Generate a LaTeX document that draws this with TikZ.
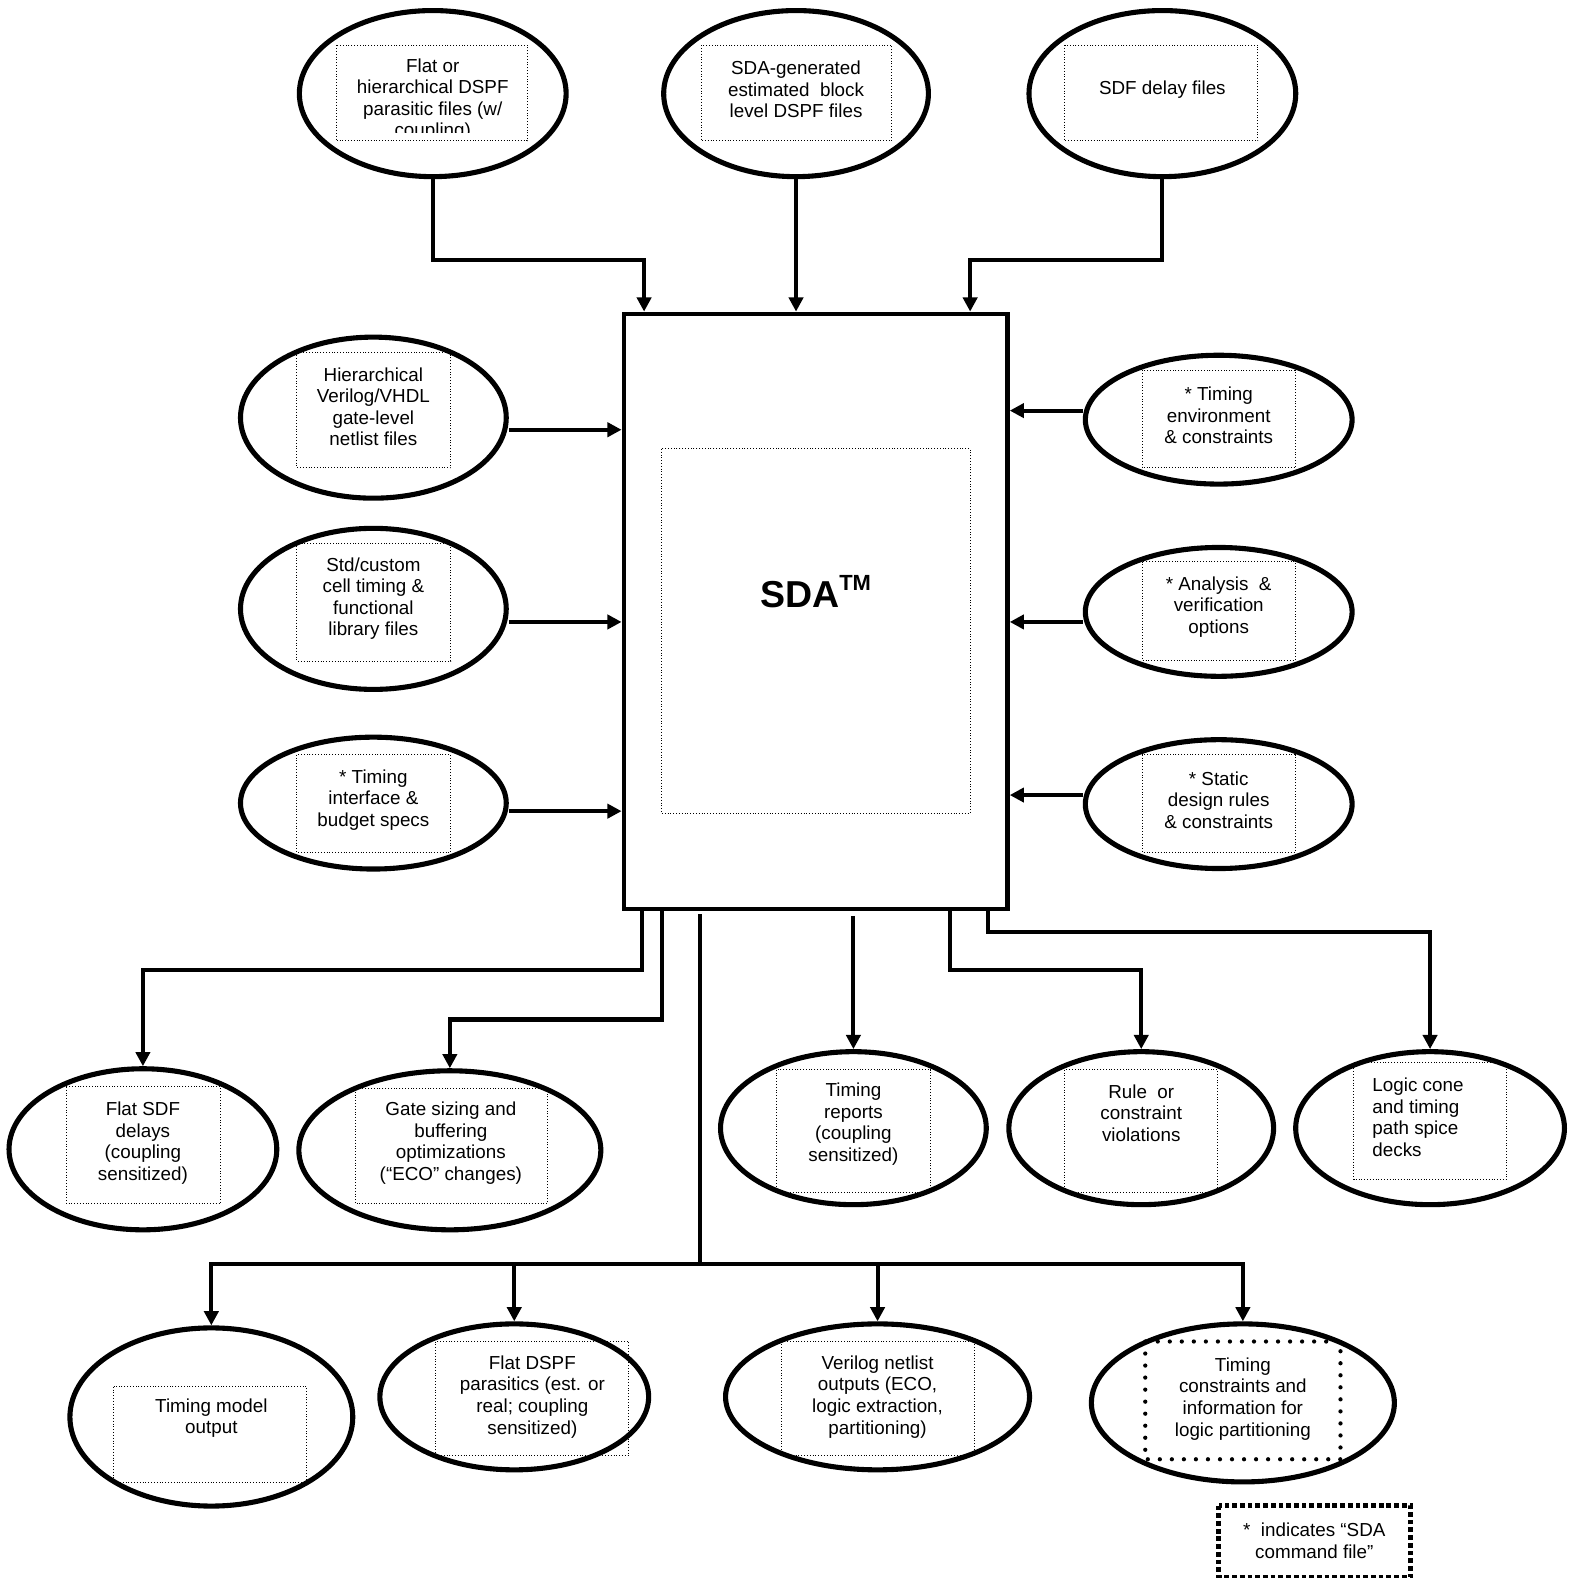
\documentclass[tikz,border=0pt]{standalone}
\usepackage{fontspec}
\setmainfont{Liberation Sans}
\usetikzlibrary{shapes.geometric, arrows.meta}

\newcommand\boxfont{\fontsize{13.3}{15.2}\selectfont}

\tikzset{
  file/.style={ellipse, draw, line width=3.6pt, inner sep=0pt},
  frame/.style={draw, line width=0.7pt, dash pattern=on 0.7pt off 1.3pt},
  txt/.style={align=center, font=\boxfont, inner sep=0pt},
  link/.style={line width=2.9pt, -{Triangle[length=10pt, width=10pt]}},
  wire/.style={line width=2.9pt, line cap=rect},
}

\begin{document}
\begin{tikzpicture}[x=0.025cm, y=-0.025cm]
  \useasboundingbox (0,0) rectangle (1563,1568);

  % main block
  \node (sda) [draw, line width=3.3pt, minimum width=9.525cm, minimum height=14.775cm, inner sep=0pt] at (810.5,607.5) {};
  \draw [frame] (657,446) rectangle (964,808);
  \node (sda-t) [anchor=base west, inner sep=0pt] at (755,604)
    {\fontsize{26.5}{30}\selectfont\bfseries SDA\raisebox{12pt}{\fontsize{15.5}{18}\selectfont TM}};

  % inputs, top
  \node (dspfin) [file, minimum width=6.625cm, minimum height=4.125cm] at (430,93) {};
  \draw [frame] (334,45) rectangle (524,140);
  \begin{scope}
    \clip (334,45) rectangle (524,132);
    \node (dspfin-t) [txt] at (430,99) {Flat or\\hierarchical DSPF\\parasitic files (w/\\coupling)};
  \end{scope}

  \node (dspfest) [file, minimum width=6.575cm, minimum height=4.125cm] at (791,93) {};
  \draw [frame] (697,45) rectangle (886,140);
  \node (dspfest-t) [txt] at (791,89) {SDA-generated\\estimated\ \ block\\level DSPF files};

  \node (sdfin) [file, minimum width=6.625cm, minimum height=4.125cm] at (1155,93) {};
  \draw [frame] (1058,45) rectangle (1250,140);
  \node (sdfin-t) [txt] at (1155,89) {SDF delay files};

  % inputs, left
  \node (netlist) [file, minimum width=6.6cm, minimum height=4cm] at (371,415) {};
  \draw [frame] (295,350) rectangle (448,465);
  \node (netlist-t) [txt] at (371,404) {Hierarchical\\Verilog/VHDL\\gate-level\\netlist files};

  \node (celllib) [file, minimum width=6.6cm, minimum height=4cm] at (371,605) {};
  \draw [frame] (295,540) rectangle (448,657);
  \node (celllib-t) [txt] at (371,595) {Std/custom\\cell timing \&\\functional\\library files};

  \node (budget) [file, minimum width=6.6cm, minimum height=3.275cm] at (371,798) {};
  \draw [frame] (295,750) rectangle (448,847);
  \node (budget-t) [txt] at (371,795) {* Timing\\interface \&\\budget specs};

  % inputs, right
  \node (tenv) [file, minimum width=6.625cm, minimum height=3.2cm] at (1211,417) {};
  \draw [frame] (1135,368) rectangle (1287,465);
  \node (tenv-t) [txt] at (1211,413) {* Timing\\environment\\\& constraints};

  \node (options) [file, minimum width=6.625cm, minimum height=3.2cm] at (1211,608) {};
  \draw [frame] (1135,558) rectangle (1287,656);
  \node (options-t) [txt] at (1211,603) {* Analysis\ \ \&\\verification\\options};

  \node (rules) [file, minimum width=6.625cm, minimum height=3.2cm] at (1211,799) {};
  \draw [frame] (1135,750) rectangle (1287,847);
  \node (rules-t) [txt] at (1211,795) {* Static\\design rules\\\& constraints};

  % outputs, first row
  \node (sdfout) [file, minimum width=6.65cm, minimum height=4cm] at (142,1142) {};
  \draw [frame] (66,1080) rectangle (219,1196);
  \node (sdfout-t) [txt] at (142,1136) {Flat SDF\\delays\\(coupling\\sensitized)};

  \node (eco) [file, minimum width=7.5cm, minimum height=3.95cm] at (447,1143) {};
  \draw [frame] (353,1082) rectangle (544,1196);
  \node (eco-t) [txt] at (448,1136) {Gate sizing and\\buffering\\optimizations\\(“ECO” changes)};

  \node (reports) [file, minimum width=6.6cm, minimum height=3.8cm] at (848,1121) {};
  \draw [frame] (772,1063) rectangle (925,1185);
  \node (reports-t) [txt] at (848,1117) {Timing\\reports\\(coupling\\sensitized)};

  \node (violations) [file, minimum width=6.575cm, minimum height=3.8cm] at (1134,1121) {};
  \draw [frame] (1058,1063) rectangle (1210,1185);
  \node (violations-t) [txt] at (1134,1106) {Rule\ \ or\\constraint\\violations};

  \node (spice) [file, minimum width=6.675cm, minimum height=3.8cm] at (1421,1121) {};
  \draw [frame] (1345,1056) rectangle (1497,1172);
  \node (spice-t) [txt, align=left] at (1409,1110) {Logic cone\\and timing\\path spice\\decks};

  % outputs, second row
  \node (tmodel) [file, minimum width=7.025cm, minimum height=4.425cm] at (210,1408) {};
  \draw [frame] (113,1378) rectangle (305,1473);
  \node (tmodel-t) [txt] at (210,1409) {Timing model\\output};

  \node (dspfout) [file, minimum width=6.675cm, minimum height=3.625cm] at (511,1388) {};
  \draw [frame] (433,1333) rectangle (625,1446);
  \node (dspfout-t) [txt] at (529,1388) {Flat DSPF\\parasitics (est. or\\real; coupling\\sensitized)};

  \node (verilogout) [file, minimum width=7.55cm, minimum height=3.625cm] at (872,1388) {};
  \draw [frame] (777,1333) rectangle (968,1446);
  \node (verilogout-t) [txt] at (872,1388) {Verilog netlist\\outputs (ECO,\\logic extraction,\\partitioning)};

  \node (partition) [file, minimum width=7.525cm, minimum height=3.925cm] at (1235,1394) {};
  \draw [line width=3pt, line cap=round, dash pattern=on 0pt off 8.5pt] (1138,1333) rectangle (1332,1450);
  \node (partition-t) [txt] at (1235,1390) {Timing\\constraints and\\information for\\logic partitioning};

  % legend
  \draw [line width=3.5pt, dash pattern=on 3.4pt off 2.05pt] (1211,1496) rectangle (1402,1567);
  \node (legend-t) [txt] at (1306,1531) {*\ \ indicates “SDA\\command file”};

  % connectors in
  \draw [link] (dspfin.south) |- (640,258) -- (sda.north -| 640,0);
  \draw [link] (dspfest.south) -- (sda.north -| dspfest.south);
  \draw [link] (sdfin.south) |- (964,258) -- (sda.north -| 964,0);

  \draw [link] (netlist.east |- 0,427) -- (sda.west |- 0,427);
  \draw [link] (celllib.east |- 0,618) -- (sda.west |- 0,618);
  \draw [link] (budget.east |- 0,806) -- (sda.west |- 0,806);

  \draw [link] (tenv.west |- 0,408) -- (sda.east |- 0,408);
  \draw [link] (options.west |- 0,618) -- (sda.east |- 0,618);
  \draw [link] (rules.west |- 0,790) -- (sda.east |- 0,790);

  % connectors out
  \draw [link] (sda.south -| 638,0) |- (142,964) -- (sdfout.north);
  \draw [link] (sda.south -| 658,0) |- (447,1013) -- (eco.north);
  \coordinate (trunk) at (696,910);
  \coordinate (bus) at (0,1256);
  \draw [link] (reports.north |- trunk) -- (reports.north);
  \draw [link] (sda.south -| 944,0) |- (1134,964) -- (violations.north);
  \draw [link] (sda.south -| 982,0) |- (1421,926) -- (spice.north);

  \draw [wire] (trunk) -- (trunk |- bus);
  \draw [wire] (tmodel.north |- bus) -- (partition.north |- bus);
  \foreach \n in {tmodel, dspfout, verilogout, partition}
    \draw [link] (\n.north |- bus) -- (\n.north);
\end{tikzpicture}
\end{document}
